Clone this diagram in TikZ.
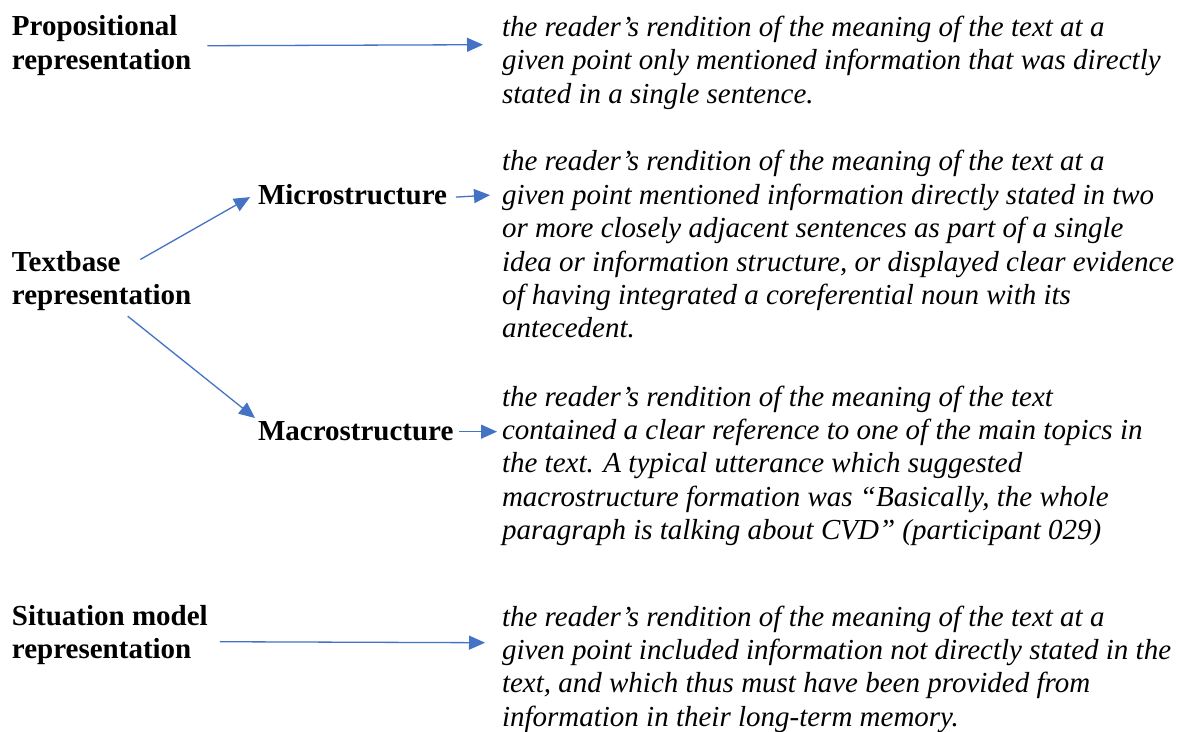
\documentclass[tikz,border=0pt]{standalone}
\usepackage{fontspec}
\setmainfont{Liberation Serif}
\usetikzlibrary{arrows.meta,calc}
\definecolor{arrowblue}{HTML}{4472C4}
\tikzset{
  lbl/.style={inner sep=0pt, outer sep=0pt, align=left, anchor=base west,
    font=\fontsize{29}{33.4}\selectfont\bfseries},
  para/.style={inner sep=0pt, outer sep=0pt, align=left, anchor=base west,
    font=\fontsize{29}{33.4}\selectfont\itshape},
  arr/.style={draw=arrowblue, line width=1.3pt,
    -{Triangle[length=16pt,width=14pt]}}
}
\begin{document}
\begin{tikzpicture}[x=1pt,y=1pt]
\useasboundingbox (0,0) rectangle (1190,731);
\clip (0,0) rectangle (1190,731);
\fill[white] (0,0) rectangle (1190,731);

% anchors: base west = baseline of the last line
\node[lbl] (prop) at (12,661.6) {Propositional\\representation};
\node[para] (para1) at (502,627.7) {the reader’s rendition of the meaning of the text at a\\given point only mentioned information that was directly\\stated in a single sentence.};

\node[lbl] (tb) at (12,426) {Textbase\\representation};
\node[lbl] (micro) at (258,526) {Microstructure};
\node[para] (para2) at (502,393) {the reader’s rendition of the meaning of the text at a\\given point mentioned information directly stated in two\\or more closely adjacent sentences as part of a single\\idea or information structure, or displayed clear evidence\\of having integrated a coreferential noun with its\\antecedent.};

\node[lbl] (macro) at (258,290) {Macrostructure};
\node[para] (para3) at (502,191.4) {the reader’s rendition of the meaning of the text\\contained a clear reference to one of the main topics in\\the text. A typical utterance which suggested\\macrostructure formation was “Basically, the whole\\paragraph is talking about CVD” (participant 029)};

\node[lbl] (sit) at (12,72.6) {Situation model\\representation};
\node[para] (para4) at (502,4.8) {the reader’s rendition of the meaning of the text at a\\given point included information not directly stated in the\\text, and which thus must have been provided from\\information in their long-term memory.};

\draw[arr] ($(prop.east)+(16,0)$) -- ($(para1.west |- prop.east)+(-19,1)$);
\draw[arr] ($(tb.north east)+(-51,-8)$) -- ($(micro.west)+(-8,-2)$);
\draw[arr] ($(micro.east)+(9,-2)$) -- ($(para2.west |- micro.east)+(-12,0)$);
\draw[arr] ($(tb.south)+(26,-5)$) -- ($(macro.north west)+(-3,4)$);
\draw[arr] ($(macro.east)+(6,0)$) -- ($(para3.west |- macro.east)+(-5,0)$);
\draw[arr] ($(sit.east)+(12,-7)$) -- ($(para4.west |- sit.east)+(-17,-8)$);
\end{tikzpicture}
\end{document}
